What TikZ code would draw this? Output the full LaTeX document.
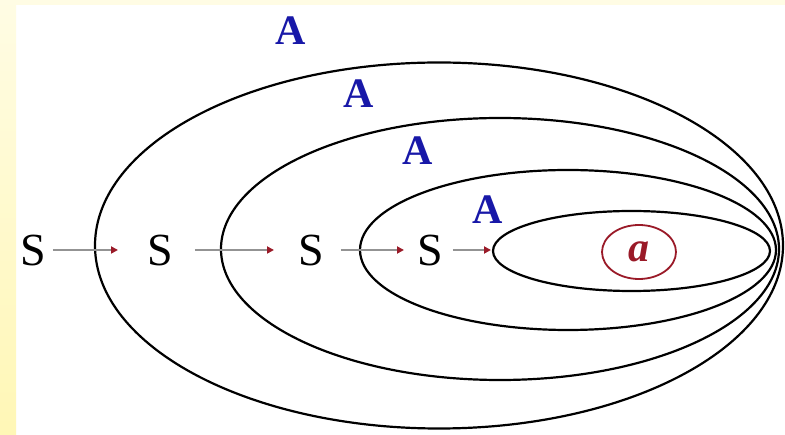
\documentclass[tikz,border=0pt]{standalone}
\usepackage{fontspec}
\setmainfont{Liberation Serif}
\newfontfamily\timesface{Liberation Serif}
\usetikzlibrary{arrows.meta,shapes.geometric}
\definecolor{setblue}{HTML}{1818A8}
\definecolor{tipred}{HTML}{9A1A28}
\definecolor{paleyel}{HTML}{FFFCE4}
\definecolor{deepyel}{HTML}{FFF7B6}
\tikzset{
 sym/.style={inner sep=0pt,font=\timesface\fontsize{46}{46}\selectfont},
 nonterm/.style={inner sep=0pt,text=setblue,font=\timesface\bfseries\fontsize{42}{42}\selectfont},
 flow/.style={draw=gray!85,line width=1.8pt,-{Triangle[length=7pt,width=7pt,color=tipred]}},
 set/.style={line width=2.2pt}
}
\begin{document}
\begin{tikzpicture}[x=1pt,y=-1pt]
 \useasboundingbox (0,0) rectangle (785,435);
 \fill[white] (0,0) rectangle (785,435);
 \fill[paleyel] (0,0) rectangle (785,5);
 \shade[top color=paleyel,bottom color=deepyel] (0,0) rectangle (16,435);
 % nested sets
 \draw[set] (439,245.5) ellipse [x radius=344,y radius=183];
 \draw[set] (500,249) ellipse [x radius=279,y radius=131];
 \draw[set] (568,250) ellipse [x radius=208,y radius=80];
 \draw[set] (631.5,251) ellipse [x radius=138.5,y radius=40];
 \node[nonterm] (a1) at (291,31) {A};
 \node[nonterm] (a2) at (359,94) {A};
 \node[nonterm] (a3) at (418,151) {A};
 \node[nonterm] (a4) at (488,210) {A};
 % derivation chain
 \node[sym] (s1) at (33,250) {S};
 \node[sym] (s2) at (160,250) {S};
 \node[sym] (s3) at (311,250) {S};
 \node[sym] (s4) at (430,250) {S};
 \coordinate (t1) at (118,250);
 \coordinate (t2) at (274,250);
 \coordinate (t3) at (404,250);
 \coordinate (t4) at (491,250);
 \draw[flow,shorten <=7pt] (s1) -- (t1);
 \draw[flow,shorten <=22pt] (s2) -- (t2);
 \draw[flow,shorten <=17pt] (s3) -- (t3);
 \draw[flow,shorten <=10pt] (s4) -- (t4);
 \node[ellipse,draw=tipred,line width=1.8pt,minimum width=74,minimum height=54,inner sep=0pt,
  text=tipred,font=\timesface\bfseries\itshape\fontsize{42}{42}\selectfont] (term) at (639,252) {a};
\end{tikzpicture}
\end{document}
